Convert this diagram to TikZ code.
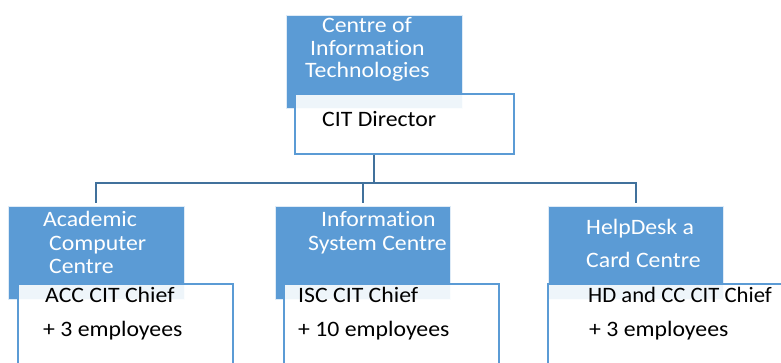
\documentclass[tikz,border=0pt]{standalone}
\usepackage{graphicx}
\usepackage{fontspec}
\setmainfont[FakeStretch=1.08,Ligatures=NoCommon]{Carlito}
\definecolor{bfill}{HTML}{5B9BD5}
\definecolor{bline}{HTML}{5B9BD5}
\definecolor{cline}{HTML}{41719C}
\begin{document}
\begin{tikzpicture}[x=1pt,y=-1pt,
  bluebox/.style={rectangle,fill=bfill,draw=white!80!bfill,line width=0.6pt,anchor=north west,inner sep=0pt},
  whitebox/.style={rectangle,fill=white,fill opacity=0.9,draw=bline,line width=1.6pt,anchor=north west,inner sep=0pt},
  conn/.style={draw=cline,line width=1.8pt},
  wt/.style={anchor=base west,inner sep=0pt,text=white,font=\fontsize{22}{24}\selectfont},
  bt/.style={anchor=base west,inner sep=0pt,text=black,font=\fontsize{22}{24}\selectfont}]
\useasboundingbox (0,0) rectangle (781,362);
\clip (0,0) rectangle (781,362);
% blue boxes
\node[bluebox,minimum width=176pt,minimum height=93pt] (citb) at (286,15) {};
\node[bluebox,minimum width=176pt,minimum height=93pt] (accb) at (8,206) {};
\node[bluebox,minimum width=175pt,minimum height=93pt] (iscb) at (275,206) {};
\node[bluebox,minimum width=175pt,minimum height=93pt] (hdb) at (548,206) {};
% white boxes
\node[whitebox,minimum width=219pt,minimum height=60pt] (citw) at (294,93) {};
\node[whitebox,minimum width=215pt,minimum height=100pt] (accw) at (17,283) {};
\node[whitebox,minimum width=215pt,minimum height=100pt] (iscw) at (283,283) {};
\node[whitebox,minimum width=260pt,minimum height=100pt] (hdw) at (547,283) {};
% connectors
\coordinate (bus) at (374,183);
\draw[conn] (bus |- citw.south) -- (bus);
\draw[conn] (bus) -| ([yshift=3pt]accb.north);
\draw[conn] (bus) -| ([yshift=3pt]iscb.north);
\draw[conn] (bus) -| ([yshift=3pt]hdb.north);
% texts top
\node[wt] (t1) at (322,32) {Centre of};
\node[wt] (t2) at (310,55) {Information};
\node[wt] (t3) at (305,77) {Technologies};
\node[bt] (t4) at (322,126) {CIT Director};
% left
\node[wt] (a1) at (43,226) {Academic};
\node[wt] (a2) at (49,250) {Computer};
\node[wt] (a3) at (49,273) {Centre};
\node[bt] (a4) at (45,302) {ACC CIT Chief};
\node[bt] (a5) at (43,336) {+ 3 employees};
% middle
\node[wt] (i1) at (321,226) {Information};
\node[wt] (i2) at (308,250) {System Centre};
\node[bt] (i3) at (298,302) {ISC CIT Chief};
\node[bt] (i4) at (298,336) {+ 10 employees};
% right
\node[wt] (h1) at (586,234) {HelpDesk a};
\node[wt] (h2) at (586,267) {Card Centre};
\node[bt] (h3) at (588,302) {\scalebox{0.955}[1]{HD and CC CIT Chief}};
\node[bt] (h4) at (589,336) {+ 3 employees};
\end{tikzpicture}
\end{document}
